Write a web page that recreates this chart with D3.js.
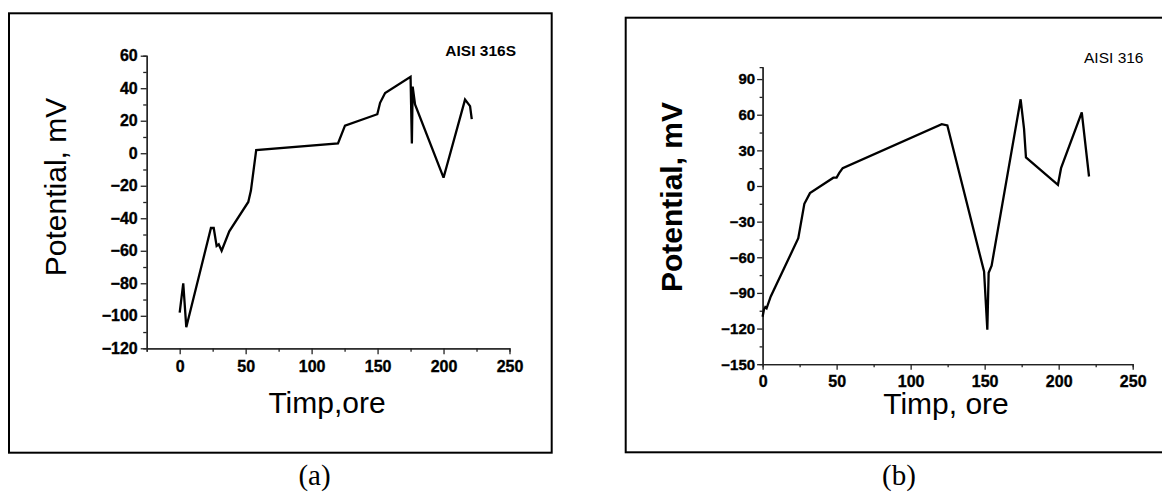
<!DOCTYPE html>
<html>
<head>
<meta charset="utf-8">
<script src="https://cdn.jsdelivr.net/npm/d3@7"></script>
<style>
  html, body { margin: 0; padding: 0; background: #fff; }
  svg { display: block; }
</style>
</head>
<body>
<svg id="chart" width="1162" height="493"></svg>
<script>
// ---------- data ----------
const timeA = [0, 2.7, 5, 23.7, 25.8, 28, 29.6, 31.8, 37.6, 52, 54, 58, 120, 125.3, 149.8, 151.9, 155.7, 175, 176, 176.6, 178.4, 200, 202.4, 216.3, 220.1, 221.4];
const potA  = [-98, -80, -107, -46, -46, -57, -56, -60, -48, -30, -23, 2, 6, 17, 24, 31, 37, 47, 6, 41, 30, -15, -8, 33, 29, 21];

const timeB = [0, 0.9, 1.8, 2.7, 5.5, 24.1, 28.2, 32, 47.8, 50, 51.8, 54.1, 121, 124.8, 149.6, 151.8, 152.7, 154.7, 174.3, 176.6, 177.9, 199.5, 201.6, 215.6, 220.5];
const potB  = [-110, -104, -102, -103, -93, -44, -15, -6, 7, 7, 11, 15, 52, 51, -72, -121, -73, -67, 73, 48, 24, 1, 15, 62, 8];

const xTicksA = [0, 50, 100, 150, 200, 250];
const xMinorA = [-25, 25, 75, 125, 175, 225];
const yTicksA = [-120, -100, -80, -60, -40, -20, 0, 20, 40, 60];
const yMinorA = [-110, -90, -70, -50, -30, -10, 10, 30, 50];

const xTicksB = [0, 50, 100, 150, 200, 250];
const xMinorB = [25, 75, 125, 175, 225];
const yTicksB = [-150, -120, -90, -60, -30, 0, 30, 60, 90];
const yMinorB = [-135, -105, -75, -45, -15, 15, 45, 75];

const titleA = "AISI 316S", titleB = "AISI 316";
const xLabelA = "Timp,ore", xLabelB = "Timp, ore";
const yLabel = "Potential, mV";
const captionA = "(a)", captionB = "(b)";

// ---------- drawing ----------
const svg = d3.select("#chart");
svg.append("rect").attr("width", 1162).attr("height", 493).attr("fill", "#fff");

const SANS = "'Liberation Sans', Arial, sans-serif";
const SERIF = "'Liberation Serif', 'Times New Roman', serif";

// frames
svg.append("rect").attr("x", 9).attr("y", 13.3).attr("width", 542.7).attr("height", 439.4)
  .attr("fill", "none").attr("stroke", "#000").attr("stroke-width", 2);
svg.append("rect").attr("x", 625.7).attr("y", 17.7).attr("width", 560).attr("height", 434.6)
  .attr("fill", "none").attr("stroke", "#000").attr("stroke-width", 2);

function panel(cfg) {
  const x = d3.scaleLinear().domain(cfg.xDomain).range(cfg.xRange);
  const y = d3.scaleLinear().domain(cfg.yDomain).range(cfg.yRange);
  const g = svg.append("g");

  const styleAxis = sel => {
    sel.attr("font-family", SANS).attr("font-weight", "bold");
    sel.select(".domain").attr("stroke", "#222").attr("stroke-width", 1.3);
    sel.selectAll(".tick line").attr("stroke", "#222").attr("stroke-width", 1.3);
  };

  // minor ticks
  g.append("g").attr("transform", `translate(0,${cfg.yRange[0]})`)
    .call(d3.axisBottom(x).tickValues(cfg.xMinor).tickSize(cfg.minorLen).tickFormat(""))
    .call(styleAxis);
  g.append("g").attr("transform", `translate(${cfg.xRange[0]},0)`)
    .call(d3.axisLeft(y).tickValues(cfg.yMinor).tickSize(cfg.minorLen).tickFormat(""))
    .call(styleAxis);

  const boldText = (sel, size) => sel.selectAll("text")
    .attr("fill", "#000").attr("stroke", "#000").attr("stroke-width", 0.35)
    .style("font-family", SANS).style("font-weight", "700").style("font-size", size + "px");

  // major
  const gx = g.append("g").attr("transform", `translate(0,${cfg.yRange[0]})`)
    .call(d3.axisBottom(x).tickValues(cfg.xTicks).tickSize(cfg.majorLen).tickPadding(cfg.xPad).tickSizeOuter(0))
    .call(styleAxis);
  boldText(gx, cfg.xFont);

  const gy = g.append("g").attr("transform", `translate(${cfg.xRange[0]},0)`)
    .call(d3.axisLeft(y).tickValues(cfg.yTicks).tickSize(cfg.majorLen).tickPadding(cfg.yPad).tickSizeOuter(0))
    .call(styleAxis);
  boldText(gy, cfg.yFont);

  // data line
  const pts = cfg.t.map((d, i) => [d, cfg.v[i]]);
  g.append("path").datum(pts)
    .attr("fill", "none").attr("stroke", "#000").attr("stroke-width", 2.3)
    .attr("stroke-linejoin", "miter").attr("stroke-miterlimit", 3)
    .attr("d", d3.line().x(d => x(d[0])).y(d => y(d[1])));

  // labels
  g.append("text").attr("x", cfg.xLab[0]).attr("y", cfg.xLab[1]).attr("text-anchor", "middle")
    .style("font-family", SANS).style("font-size", "30px").text(cfg.xLabel);
  g.append("text").attr("transform", `translate(${cfg.yLab[0]},${cfg.yLab[1]}) rotate(-90)`)
    .attr("text-anchor", "middle")
    .style("font-family", SANS).style("font-size", "30px")
    .style("font-weight", cfg.yBold ? "700" : "400").text(yLabel);
  g.append("text").attr("x", cfg.title[0]).attr("y", cfg.title[1]).attr("text-anchor", "end")
    .style("font-family", SANS).style("font-size", cfg.titleFont + "px")
    .style("font-weight", cfg.titleBold ? "700" : "400").text(cfg.titleText);
  g.append("text").attr("x", cfg.cap[0]).attr("y", cfg.cap[1]).attr("text-anchor", "middle")
    .style("font-family", SERIF).style("font-size", "29px").text(cfg.capText);
}

panel({
  t: timeA, v: potA,
  xDomain: [-25, 250], xRange: [146.7, 509.5],
  yDomain: [-120, 60], yRange: [348.3, 55.7],
  xTicks: xTicksA, xMinor: xMinorA, yTicks: yTicksA, yMinor: yMinorA,
  majorLen: 6, minorLen: 3.5, xPad: 6, yPad: 3, xFont: 16, yFont: 16,
  xLabel: xLabelA, xLab: [327, 413], yLab: [66, 187], yBold: false,
  titleText: titleA, title: [516, 56], titleFont: 15.5, titleBold: true,
  capText: captionA, cap: [314.5, 485]
});

panel({
  t: timeB, v: potB,
  xDomain: [0, 250], xRange: [762.6, 1132.7],
  yDomain: [-150, 100], yRange: [364.2, 67.2],
  xTicks: xTicksB, xMinor: xMinorB, yTicks: yTicksB, yMinor: yMinorB,
  majorLen: 5.5, minorLen: 3, xPad: 5.5, yPad: 2, xFont: 16, yFont: 15,
  xLabel: xLabelB, xLab: [946, 414], yLab: [682, 197], yBold: true,
  titleText: titleB, title: [1143.5, 63], titleFont: 15.5, titleBold: false,
  capText: captionB, cap: [899, 485]
});
</script>
</body>
</html>
